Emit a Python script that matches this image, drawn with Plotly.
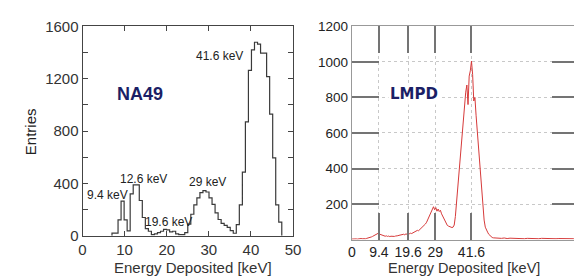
import plotly.graph_objects as go

# ---------------- data ----------------
# NA49: step histogram, bins of equal width starting at na49_bin_start
na49_bin_start = 7.0
na49_bin_width = 0.72
na49_counts = [21, 21, 122, 265, 122, 38, 320, 390, 390, 270,
               140, 55, 35, 10, 15, 25, 35, 50, 45, 30,
               35, 15, 10, 10, 25, 90, 165, 237, 290, 330,
               345, 335, 290, 240, 175, 125, 95, 80, 65, 40,
               20, 85, 237, 487, 870, 1264, 1420, 1479, 1465, 1396,
               1396, 1217, 930, 595, 237, 105]
na49_labels = ["9.4 keV", "12.6 keV", "19.6 keV", "29 keV", "41.6 keV"]
na49_label_x = [6.0, 14.6, 20.5, 29.8, 38.6]
na49_label_y = [315, 437, 108, 409, 1370]

# LMPD: sampled spectrum
lmpd_energy = [round(0.4 * i, 1) for i in range(126)] + list(range(51, 80))
lmpd_counts = [3, 4, 3, 5, 4, 3, 5, 4, 6, 5,
               4, 6, 5, 7, 8, 10, 12, 15, 18, 22,
               27, 30, 33, 36, 31, 28, 24, 22, 20, 19,
               21, 18, 20, 17, 19, 18, 16, 18, 20, 19,
               22, 24, 26, 25, 28, 30, 27, 32, 30, 35,
               33, 36, 34, 38, 40, 44, 48, 52, 50, 56,
               60, 66, 72, 80, 88, 98, 112, 128, 145, 160,
               172, 185, 168, 180, 160, 172, 158, 165, 145, 130,
               116, 100, 88, 80, 76, 72, 70, 68, 70, 82,
               130, 210, 290, 390, 470, 540, 610, 680, 750, 830,
               870, 760, 920, 950, 1005, 930, 780, 800, 700, 620,
               540, 460, 360, 250, 170, 110, 70, 52, 42, 30,
               22, 16, 12, 10, 9, 8,
               8, 7, 9, 6, 8, 7, 6, 8, 7, 5, 7, 6, 8, 6, 5,
               7, 6, 5, 6, 7, 5, 6, 5, 6, 5, 4, 5, 6, 5]
lmpd_xticks = [0, 9.4, 19.6, 29, 41.6]
lmpd_xticktext = ["0", "9.4", "19.6", "29", "41.6"]
lmpd_yticks = [200, 400, 600, 800, 1000, 1200]

# ------------- build histogram outline -------------
edges = [na49_bin_start + i * na49_bin_width for i in range(len(na49_counts) + 1)]
hx = [edges[0]] + edges
hy = [0] + na49_counts + [0]

FONT = "Liberation Sans, Arial, sans-serif"

fig = go.Figure()
fig.add_trace(go.Scatter(x=hx, y=hy, mode="lines", line=dict(color="#3a3a3a", width=1.2, shape="hv"),
                         xaxis="x", yaxis="y", showlegend=False, hoverinfo="skip"))
fig.add_trace(go.Scatter(x=lmpd_energy, y=lmpd_counts, mode="lines",
                         line=dict(color="#d63a3a", width=1),
                         xaxis="x2", yaxis="y2", showlegend=False, hoverinfo="skip"))

fig.update_layout(
    width=582, height=280, autosize=False,
    margin=dict(l=0, r=0, t=0, b=0),
    paper_bgcolor="white", plot_bgcolor="white",
    font=dict(family=FONT, size=14, color="#333"),
    xaxis=dict(domain=[0.1237, 0.4931], range=[0, 50], tick0=0, dtick=10,
               ticks="inside", ticklen=5, tickwidth=1, tickcolor="#444",
               showline=True, linecolor="#444", linewidth=1, mirror="ticks",
               showgrid=False, zeroline=False, anchor="y",
               tickfont=dict(size=15, color="#333")),
    yaxis=dict(domain=[0.1679, 0.9643], range=[0, 1600], tick0=0, dtick=400,
               ticks="inside", ticklen=5, tickwidth=1, tickcolor="#444",
               minor=dict(dtick=200, ticks="inside", ticklen=5, tickwidth=1, tickcolor="#444"),
               showline=True, linecolor="#444", linewidth=1, mirror="ticks",
               showgrid=False, zeroline=False, anchor="x",
               tickfont=dict(size=15, color="#333")),
    xaxis2=dict(domain=[0.5962, 0.9948], range=[0, 79],
                tickvals=lmpd_xticks, ticktext=lmpd_xticktext,
                ticks="inside", ticklen=27, tickwidth=1.5, tickcolor="#747474",
                showline=True, linecolor="#999999", linewidth=1, mirror="ticks",
                showgrid=True, gridcolor="#c8c8c8", griddash="dot", gridwidth=1,
                zeroline=False, anchor="y2",
                tickfont=dict(size=14, color="#222")),
    yaxis2=dict(domain=[0.1536, 0.9643], range=[0, 1200],
                tickvals=lmpd_yticks,
                ticks="inside", ticklen=27, tickwidth=1.5, tickcolor="#747474",
                showline=True, linecolor="#999999", linewidth=1, mirror="ticks",
                showgrid=True, gridcolor="#c8c8c8", griddash="dot", gridwidth=1,
                zeroline=False, anchor="x2",
                tickfont=dict(size=13.5, color="#222")),
)

# peak labels on NA49
for t, x, y in zip(na49_labels, na49_label_x, na49_label_y):
    fig.add_annotation(x=x, y=y, xref="x", yref="y", text=t, showarrow=False,
                       xanchor="right" if t == "41.6 keV" else "center", yanchor="middle",
                       font=dict(family=FONT, size=12, color="#222"))

fig.add_annotation(x=13.7, y=1083, xref="x", yref="y", text="<b>NA49</b>", showarrow=False,
                   xanchor="center", yanchor="middle",
                   font=dict(family=FONT, size=18, color="#1b1f66"))
fig.add_annotation(x=21.5, y=821, xref="x2", yref="y2", text="<b>LMPD</b>", showarrow=False,
                   xanchor="center", yanchor="middle", bgcolor="white",
                   font=dict(family="DejaVu Sans, sans-serif", size=15, color="#1b1f66"))

# axis titles
fig.add_annotation(x=19 / 582, y=(280 - 122) / 280, xref="paper", yref="paper", text="Entries",
                   showarrow=False, textangle=-90, xanchor="center", yanchor="middle",
                   font=dict(family=FONT, size=15, color="#222"))
fig.add_annotation(x=185 / 582, y=(280 - 267) / 280, xref="paper", yref="paper",
                   text="Energy Deposited [keV]", showarrow=False,
                   xanchor="center", yanchor="middle",
                   font=dict(family=FONT, size=15, color="#333"))
fig.add_annotation(x=462 / 582, y=(280 - 267) / 280, xref="paper", yref="paper",
                   text="Energy Deposited [keV]", showarrow=False,
                   xanchor="center", yanchor="middle",
                   font=dict(family=FONT, size=14.5, color="#333"))

fig.write_html("out.html")
